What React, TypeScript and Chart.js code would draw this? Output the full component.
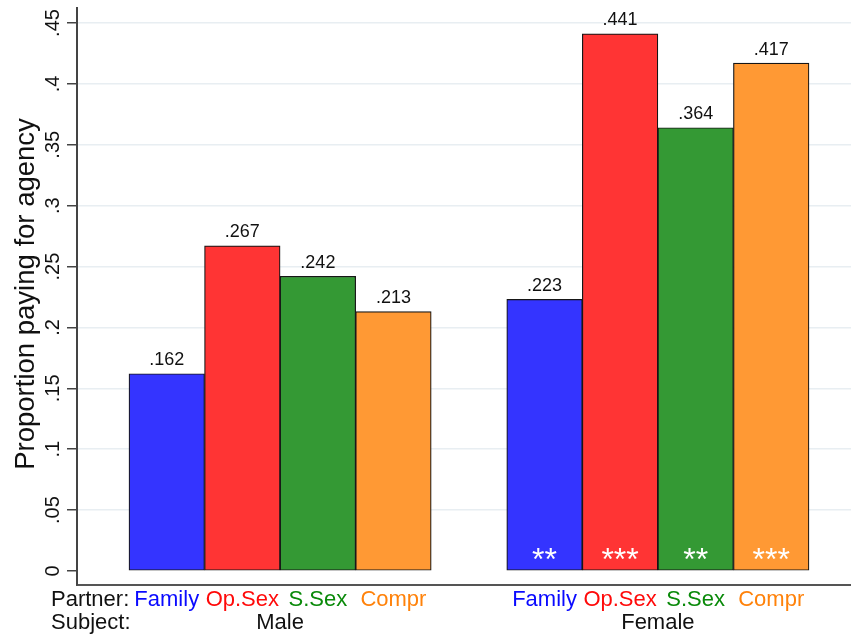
import React, { useEffect, useRef } from 'react';
import { Chart, registerables } from 'chart.js';

Chart.register(...registerables);

// ---- data ----
const SUBJECTS = ['Male', 'Female'];
const PARTNERS = ['Family', 'Op.Sex', 'S.Sex', 'Compr'];
const MALE_VALUES = [0.162, 0.267, 0.242, 0.213];
const FEMALE_VALUES = [0.223, 0.441, 0.364, 0.417];
const MALE_STARS = ['', '', '', ''];
const FEMALE_STARS = ['**', '***', '**', '***'];
const Y_TICKS = [0, 0.05, 0.1, 0.15, 0.2, 0.25, 0.3, 0.35, 0.4, 0.45];
const Y_TICK_LABELS = ['0', '.05', '.1', '.15', '.2', '.25', '.3', '.35', '.4', '.45'];
const Y_TITLE = 'Proportion paying for agency';
const PARTNER_LABEL = 'Partner:';
const SUBJECT_LABEL = 'Subject:';

// ---- styles ----
const BAR_COLORS = ['#3434ff', '#ff3434', '#349934', '#ff9934'];
const LABEL_COLORS = ['#0a0aff', '#ff0a0a', '#0a8a0a', '#ff820a'];
const FONT = '"Liberation Sans", Arial, Helvetica, sans-serif';
const X_MIN = -0.188;
const X_MAX = 10.056;
const Y_MIN = -0.0115;
const Y_MAX = 0.4623;

const GROUP_VALUES = [MALE_VALUES, FEMALE_VALUES];
const GROUP_STARS = [MALE_STARS, FEMALE_STARS];
const SLOT = PARTNERS.length + 1;

const points: { x: number; y: number }[] = [];
const colors: string[] = [];
const stars: string[] = [];
const catIdx: number[] = [];
GROUP_VALUES.forEach((vals, g) => {
  vals.forEach((v, c) => {
    points.push({ x: g * SLOT + c + 1, y: v });
    colors.push(BAR_COLORS[c]);
    stars.push(GROUP_STARS[g][c]);
    catIdx.push(c);
  });
});
const slotTicks = Array.from({ length: SUBJECTS.length * SLOT - 1 }, (_, i) => ({ value: i + 1 }));

const fmt = (v: number) => {
  const s = v.toFixed(3);
  return s.startsWith('0.') ? s.slice(1) : s;
};

const textPlugin = {
  id: 'stataText',
  afterDatasetsDraw(chart: any) {
    const ctx: CanvasRenderingContext2D = chart.ctx;
    const meta = chart.getDatasetMeta(0);
    const ys = chart.scales.y;
    ctx.save();

    // value labels
    ctx.font = `18px ${FONT}`;
    ctx.fillStyle = '#111';
    ctx.textAlign = 'center';
    ctx.textBaseline = 'alphabetic';
    meta.data.forEach((bar: any, i: number) => {
      ctx.fillText(fmt(points[i].y), bar.x, bar.y - 8.5);
    });

    // significance stars
    const y0 = ys.getPixelForValue(0);
    ctx.font = `32px ${FONT}`;
    ctx.fillStyle = '#ffffff';
    meta.data.forEach((bar: any, i: number) => {
      if (stars[i]) ctx.fillText(stars[i], bar.x, y0 - 1);
    });

    // y tick labels (rotated)
    ctx.font = `20px ${FONT}`;
    ctx.fillStyle = '#111';
    ys.ticks.forEach((t: any, i: number) => {
      const y = ys.getPixelForValue(t.value);
      ctx.save();
      ctx.translate(58.5, y);
      ctx.rotate(-Math.PI / 2);
      ctx.textAlign = 'center';
      ctx.textBaseline = 'alphabetic';
      ctx.fillText(Y_TICK_LABELS[i], 0, 0);
      ctx.restore();
    });

    // y title
    ctx.save();
    ctx.font = `27.5px ${FONT}`;
    ctx.translate(33.5, 294);
    ctx.rotate(-Math.PI / 2);
    ctx.textAlign = 'center';
    ctx.textBaseline = 'alphabetic';
    ctx.fillText(Y_TITLE, 0, 0);
    ctx.restore();

    // bottom labels
    ctx.font = `22px ${FONT}`;
    ctx.textAlign = 'left';
    ctx.fillStyle = '#111';
    ctx.fillText(PARTNER_LABEL, 51, 606);
    ctx.fillText(SUBJECT_LABEL, 51, 629);
    ctx.textAlign = 'center';
    meta.data.forEach((bar: any, i: number) => {
      ctx.fillStyle = LABEL_COLORS[catIdx[i]];
      ctx.fillText(PARTNERS[catIdx[i]], bar.x, 606);
    });
    ctx.fillStyle = '#111';
    SUBJECTS.forEach((s, g) => {
      const first = meta.data[g * PARTNERS.length];
      const last = meta.data[g * PARTNERS.length + PARTNERS.length - 1];
      ctx.fillText(s, (first.x + last.x) / 2, 629);
    });

    ctx.restore();
  },
};

export default function App() {
  const ref = useRef<HTMLCanvasElement | null>(null);
  useEffect(() => {
    if (!ref.current) return;
    const chart = new Chart(ref.current, {
      type: 'bar',
      data: {
        datasets: [
          {
            data: points as any,
            backgroundColor: colors,
            borderColor: '#161616',
            borderWidth: 1.2,
            borderSkipped: false,
            barPercentage: 1,
            categoryPercentage: 1,
          },
        ],
      },
      options: {
        animation: false,
        responsive: false,
        devicePixelRatio: 1,
        layout: { padding: { top: 8, left: 0, right: 0, bottom: 0 } },
        plugins: { legend: { display: false }, tooltip: { enabled: false }, title: { display: false } },
        scales: {
          x: {
            type: 'linear',
            offset: false,
            min: X_MIN,
            max: X_MAX,
            grid: { display: false, offset: false },
            ticks: { display: false },
            border: { display: true, color: '#555', width: 2 },
            afterBuildTicks: (s: any) => {
              s.ticks = slotTicks.map((t) => ({ ...t }));
            },
            afterFit: (s: any) => {
              s.height = 49;
            },
          },
          y: {
            type: 'linear',
            min: Y_MIN,
            max: Y_MAX,
            ticks: { display: false },
            afterBuildTicks: (s: any) => {
              s.ticks = Y_TICKS.map((v) => ({ value: v }));
            },
            grid: {
              color: (c: any) => (c.tick && c.tick.value === 0 ? 'rgba(0,0,0,0)' : '#e8eef2'),
              lineWidth: 1.5,
              drawTicks: true,
              tickLength: 10,
              tickColor: '#444',
              tickWidth: 1.5,
            },
            border: { display: true, color: '#444', width: 2 },
            afterFit: (s: any) => {
              s.width = 77;
            },
          },
        },
      } as any,
      plugins: [textPlugin],
    });
    return () => chart.destroy();
  }, []);
  return (
    <div style={{ position: 'absolute', left: 0, top: 0, width: 851, height: 634, background: '#fff' }}>
      <canvas ref={ref} width={851} height={634} style={{ display: 'block' }} />
    </div>
  );
}
